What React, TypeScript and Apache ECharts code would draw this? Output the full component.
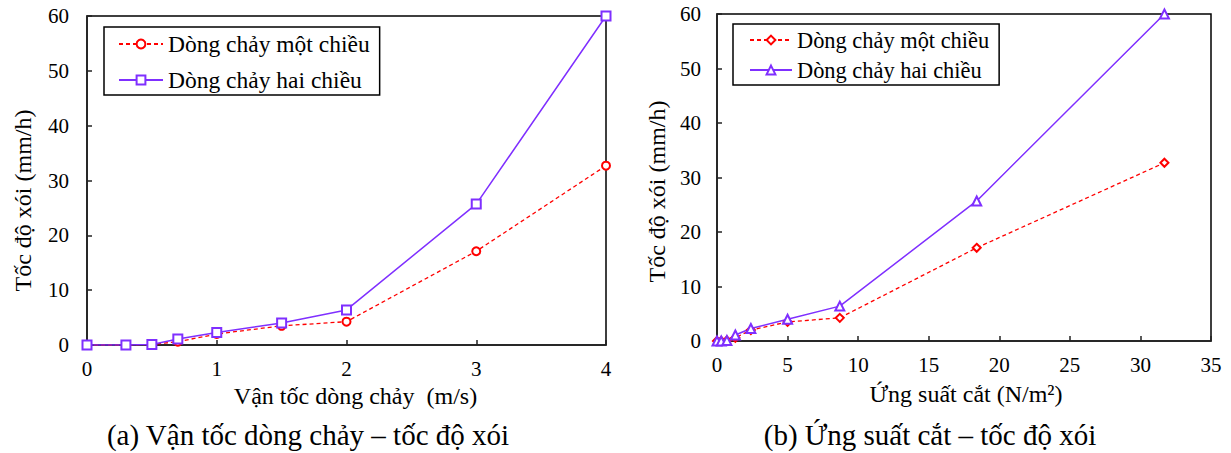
import React, { useEffect, useRef } from "react";
import * as echarts from "echarts";

// Shared erosion rate values (mm/h)
const velocity = [0, 0.3, 0.5, 0.7, 1.0, 1.5, 2.0, 3.0, 4.0]; // m/s
const shearStress = [0, 0.3, 0.7, 1.3, 2.4, 5.0, 8.7, 18.4, 31.7]; // N/m2
const oneWay = [0, 0, 0.1, 0.6, 2.0, 3.5, 4.25, 17.1, 32.7];
const twoWay = [0, 0, 0.1, 1.1, 2.3, 4.0, 6.4, 25.7, 60.0];

const nameOneWay = "Dòng chảy một chiều";
const nameTwoWay = "Dòng chảy hai chiều";
const yTitle = "Tốc độ xói (mm/h)";
const xTitleA = "Vận tốc dòng chảy  (m/s)";
const xTitleB = "Ứng suất cắt (N/m²)";
const captionA = "(a) Vận tốc dòng chảy – tốc độ xói";
const captionB = "(b) Ứng suất cắt – tốc độ xói";

const RED = "#FF0000";
const PURPLE = "#7F2FFF";
const FONT = "Liberation Serif";

const zip = (xs: number[], ys: number[]) => xs.map((x, i) => [x, ys[i]]);

export default function App() {
  const ref = useRef<HTMLDivElement>(null);
  useEffect(() => {
    if (!ref.current) return;
    const chart = echarts.init(ref.current, undefined, { renderer: "svg" });
    const axisLine = { lineStyle: { color: "#222", width: 1.5 } };
    const axisTick = { inside: true, length: 5, lineStyle: { color: "#222", width: 1.5 } };
    const label = (margin: number) => ({ color: "#000", fontFamily: FONT, fontSize: 21, margin });
    const nameStyle = (padding: number[]) => ({ color: "#000", fontFamily: FONT, fontSize: 24, padding });
    const legendBase = {
      orient: "vertical" as const,
      borderColor: "#000",
      borderWidth: 1.5,
      backgroundColor: "#fff",
      itemWidth: 44,
      itemHeight: 11,
      formatter: (n: string) => n.replace(/^b:/, ""),
    };
    chart.setOption({
      animation: false,
      textStyle: { fontFamily: FONT },
      grid: [
        { left: 87, right: 1231 - 606, top: 16, bottom: 453 - 345, show: true, borderColor: "#000", borderWidth: 1.5 },
        { left: 717, right: 1231 - 1211, top: 14, bottom: 453 - 341, show: true, borderColor: "#000", borderWidth: 1.5 },
      ],
      legend: [
        {
          ...legendBase,
          left: 104,
          top: 27,
          padding: [5, 10, 3, 14],
          itemGap: 12,
          textStyle: { color: "#000", fontFamily: FONT, fontSize: 23.5 },
          data: [nameOneWay, nameTwoWay],
        },
        {
          ...legendBase,
          left: 733,
          top: 24,
          padding: [5, 10, 4, 16],
          itemGap: 8,
          itemWidth: 42,
          textStyle: { color: "#000", fontFamily: FONT, fontSize: 22.4 },
          data: ["b:" + nameOneWay, "b:" + nameTwoWay],
        },
      ],
      xAxis: [
        {
          type: "value", gridIndex: 0, min: 0, max: 4, interval: 1,
          splitLine: { show: false }, axisLine, axisTick, axisLabel: label(13),
          name: xTitleA, nameLocation: "middle", nameGap: 38, nameTextStyle: nameStyle([0, 0, 0, 18]),
        },
        {
          type: "value", gridIndex: 1, min: 0, max: 35, interval: 5,
          splitLine: { show: false }, axisLine, axisTick, axisLabel: label(13),
          name: xTitleB, nameLocation: "middle", nameGap: 41, nameTextStyle: nameStyle([0, 0, 0, 4]),
        },
      ],
      yAxis: [
        {
          type: "value", gridIndex: 0, min: 0, max: 60, interval: 10,
          splitLine: { show: false }, axisLine, axisTick, axisLabel: label(18),
          name: yTitle, nameLocation: "middle", nameGap: 52, nameTextStyle: nameStyle([0, 40, 0, 0]),
        },
        {
          type: "value", gridIndex: 1, min: 0, max: 60, interval: 10,
          splitLine: { show: false }, axisLine, axisTick, axisLabel: label(16),
          name: yTitle, nameLocation: "middle", nameGap: 48, nameTextStyle: nameStyle([0, 28, 0, 0]),
        },
      ],
      series: [
        {
          type: "line", name: nameOneWay, xAxisIndex: 0, yAxisIndex: 0,
          data: zip(velocity, oneWay), symbol: "emptyCircle", symbolSize: 8,
          color: RED, lineStyle: { color: RED, width: 1.3, type: [4, 3] },
          itemStyle: { color: RED, borderWidth: 1.3 },
        },
        {
          type: "line", name: nameTwoWay, xAxisIndex: 0, yAxisIndex: 0,
          data: zip(velocity, twoWay), symbol: "emptyRect", symbolSize: 9,
          color: PURPLE, lineStyle: { color: PURPLE, width: 1.5 },
          itemStyle: { color: PURPLE, borderWidth: 1.3 },
        },
        {
          type: "line", name: "b:" + nameOneWay, xAxisIndex: 1, yAxisIndex: 1,
          data: zip(shearStress, oneWay), symbol: "emptyDiamond", symbolSize: 8,
          color: RED, lineStyle: { color: RED, width: 1.3, type: [4, 3] },
          itemStyle: { color: RED, borderWidth: 1.3 },
        },
        {
          type: "line", name: "b:" + nameTwoWay, xAxisIndex: 1, yAxisIndex: 1,
          data: zip(shearStress, twoWay), symbol: "emptyTriangle", symbolSize: 9,
          color: PURPLE, lineStyle: { color: PURPLE, width: 1.5 },
          itemStyle: { color: PURPLE, borderWidth: 1.3 },
        },
      ],
      graphic: [
        {
          type: "text", x: 308, y: 435,
          style: { text: captionA, fill: "#000", fontFamily: FONT, fontSize: 29, align: "center", verticalAlign: "middle" },
        },
        {
          type: "text", x: 930, y: 435,
          style: { text: captionB, fill: "#000", fontFamily: FONT, fontSize: 29, align: "center", verticalAlign: "middle" },
        },
      ],
    });
    return () => chart.dispose();
  }, []);
  return (
    <div
      ref={ref}
      style={{ position: "fixed", left: 0, top: 0, width: 1231, height: 453, background: "#fff" }}
    />
  );
}
